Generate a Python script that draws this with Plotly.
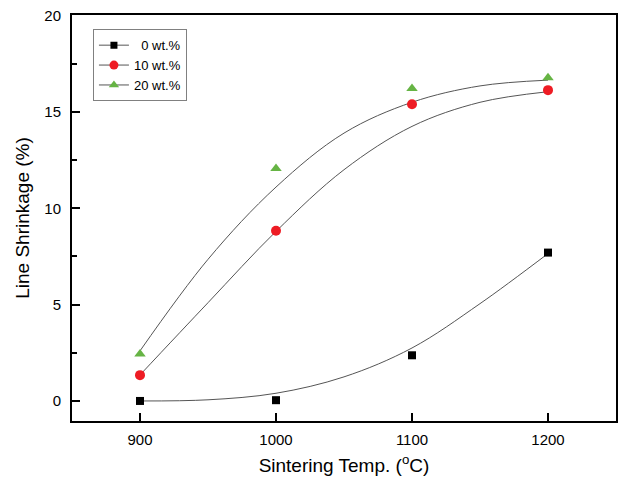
import plotly.graph_objects as go

# Measured points
temps = [900, 1000, 1100, 1200]
shrink_0 = [0.0, 0.04, 2.37, 7.70]
shrink_10 = [1.34, 8.83, 15.40, 16.13]
shrink_20 = [2.44, 12.07, 16.22, 16.77]

# Fitted curves
fit_t = [900, 950, 1000, 1050, 1100, 1150, 1200]
fit_0 = [0.0, 0.06, 0.4, 1.25, 2.75, 5.05, 7.65]
fit_10 = [1.35, 5.1, 8.8, 12.0, 14.25, 15.5, 16.05]
fit_20 = [2.6, 7.35, 11.1, 13.9, 15.5, 16.35, 16.65]

labels = ["\u00a0\u00a00 wt.%", "10 wt.%", "20 wt.%"]
series = [shrink_0, shrink_10, shrink_20]
fits = [fit_0, fit_10, fit_20]
colors = ["#000000", "#ee1c24", "#66b444"]
symbols = ["square", "circle", "triangle-up"]
sizes = [8, 10, 10]
curve_color = "#555555"

fig = go.Figure()
for f in fits:
    fig.add_trace(go.Scatter(x=fit_t, y=f, mode="lines", line=dict(color=curve_color, width=1, shape="spline"),
                             showlegend=False, hoverinfo="skip"))
for s, c, sym, sz in zip(series, colors, symbols, sizes):
    fig.add_trace(go.Scatter(x=temps, y=s, mode="markers",
                             marker=dict(color=c, symbol=sym, size=sz, line=dict(width=0)),
                             showlegend=False))
# legend entries (line + marker)
for lab, c, sym, sz in zip(labels, colors, symbols, sizes):
    fig.add_trace(go.Scatter(x=[None], y=[None], mode="lines+markers", name=lab,
                             line=dict(color=curve_color, width=1),
                             marker=dict(color=c, symbol=sym, size=sz - 1, line=dict(width=0))))

fig.update_layout(
    width=623, height=483,
    margin=dict(l=72, r=5, t=15, b=62),
    paper_bgcolor="white", plot_bgcolor="white",
    font=dict(family="Liberation Sans, Arial, sans-serif", color="#000000"),
    legend=dict(x=0.0385, y=0.965, xanchor="left", yanchor="top",
                bordercolor="#808080", borderwidth=1, bgcolor="white",
                font=dict(size=13), tracegroupgap=0, itemwidth=30),
    showlegend=True,
)
fig.update_xaxes(
    range=[850, 1250], tickvals=[900, 1000, 1100, 1200],
    showline=True, linecolor="black", linewidth=2, mirror=True,
    ticks="inside", ticklen=8, tickwidth=1.5, tickcolor="black",
    showgrid=False, zeroline=False,
    tickfont=dict(size=15), ticklabelstandoff=4,
    title=dict(text="Sintering Temp. (<sup>o</sup>C)", font=dict(size=19), standoff=12),
)
fig.update_yaxes(
    range=[-1.04, 20.03], tickvals=[0, 5, 10, 15, 20],
    showline=True, linecolor="black", linewidth=2, mirror=True,
    ticks="inside", ticklen=8, tickwidth=1.5, tickcolor="black",
    minor=dict(tickvals=[2.5, 7.5, 12.5, 17.5], ticks="inside", ticklen=5, tickwidth=1.5, tickcolor="black"),
    showgrid=False, zeroline=False,
    tickfont=dict(size=15), ticklabelstandoff=6,
    title=dict(text="Line Shrinkage (%)", font=dict(size=19), standoff=10),
)

fig.write_html("out.html")
